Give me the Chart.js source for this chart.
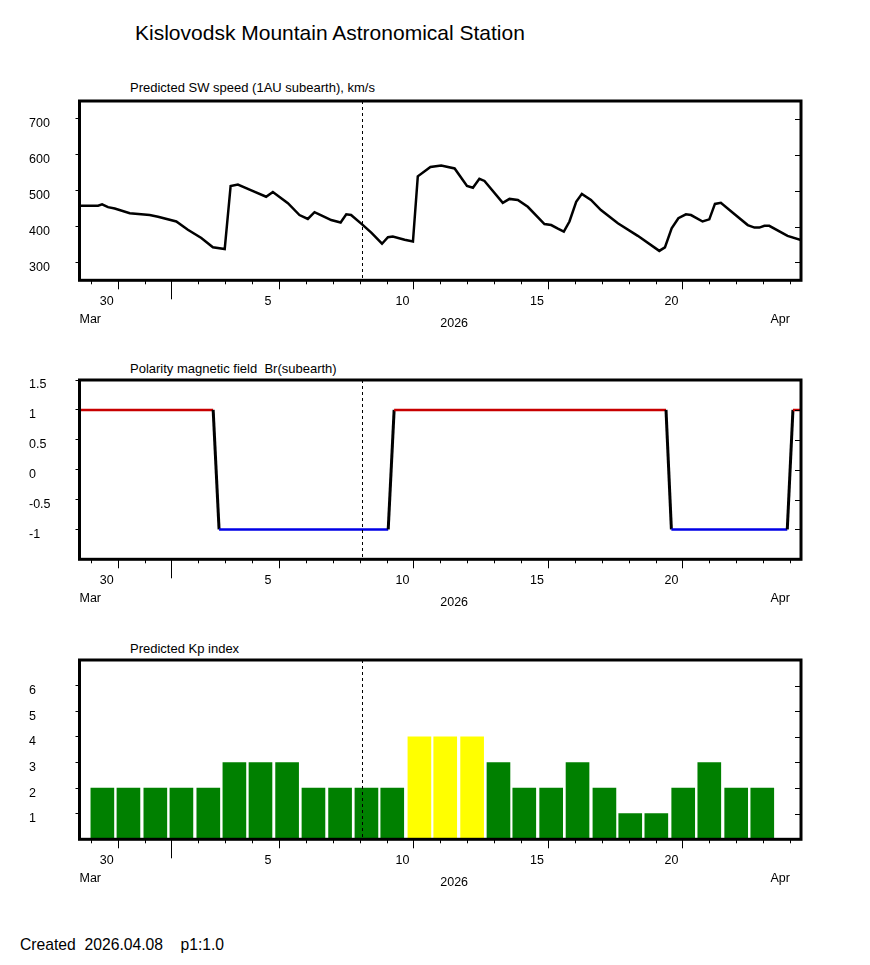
<!DOCTYPE html>
<html lang="en">
<head>
    <meta charset="UTF-8">
    <title>Kislovodsk Mountain Astronomical Station</title>
    <script src="https://cdn.jsdelivr.net/npm/chart.js"></script>
    <style>
        body {
            margin: 0;
            background: #fff;
            font-family: "Liberation Sans", Arial, sans-serif;
        }
        .page {
            position: relative;
            width: 870px;
            height: 965px;
        }
        .txt {
            position: absolute;
            white-space: pre;
            color: #000;
            line-height: 1;
        }
        .main-title { left: 135px; top: 21.7px; font-size: 21px; }
        .panel-title { left: 130px; font-size: 13px; }
        .footer { left: 20px; top: 936.5px; font-size: 15.7px; }
        .panel {
            position: absolute;
            left: 0;
        }
    </style>
</head>
<body>
<div class="page">
    <div class="txt main-title">Kislovodsk Mountain Astronomical Station</div>

    <div class="txt panel-title" style="top:81.3px">Predicted SW speed (1AU subearth), km/s</div>
    <canvas class="panel" id="swChart" width="870" height="250" style="top:80.5px"></canvas>

    <div class="txt panel-title" style="top:361.9px">Polarity magnetic field  Br(subearth)</div>
    <canvas class="panel" id="polChart" width="870" height="250" style="top:360.3px"></canvas>

    <div class="txt panel-title" style="top:642.3px">Predicted Kp index</div>
    <canvas class="panel" id="kpChart" width="870" height="250" style="top:640.3px"></canvas>

    <div class="txt footer">Created  2026.04.08    p1:1.0</div>
</div>

<script>
    // time axis: day numbers, Mar 30 = 30, Apr 1 = 32, Apr 24 = 55
    const xMin = 28.58;
    const xMax = 55.41;
    const dayTicks = [29, 30, 31, 32, 33, 34, 35, 36, 37, 38, 39, 40, 41, 42,
                      43, 44, 45, 46, 47, 48, 49, 50, 51, 52, 53, 54, 55];
    const labelDays = [30, 36, 41, 46, 51];
    const labelText = ['30', '5', '10', '15', '20'];
    const monthStart = 32;
    const nowDay = 39.09;

    // predicted solar wind speed, km/s
    const swDays = [28.58, 29.27, 29.42, 29.64, 29.89, 30.45, 31.19, 31.50, 32.18, 32.61,
                    33.11, 33.54, 33.98, 34.20, 34.47, 34.97, 35.52, 35.77, 36.33, 36.76,
                    37.07, 37.32, 37.63, 37.94, 38.29, 38.50, 38.68, 39.12, 39.43, 39.83,
                    40.05, 40.23, 40.67, 40.98, 41.16, 41.63, 42.03, 42.53, 42.99, 43.21,
                    43.45, 43.64, 44.32, 44.57, 44.88, 45.25, 45.87, 46.12, 46.37, 46.59,
                    46.80, 47.05, 47.26, 47.60, 47.97, 48.60, 49.34, 50.14, 50.35, 50.60,
                    50.85, 51.13, 51.32, 51.75, 52.00, 52.21, 52.43, 52.93, 53.43, 53.68,
                    53.86, 54.05, 54.23, 54.91, 55.41];
    const swSpeed = [458, 458, 462, 454, 450, 437, 432, 427, 414, 391,
                     368, 342, 337, 513, 517, 501, 483, 496, 465, 432,
                     421, 440, 429, 418, 411, 434, 432, 404, 383, 352,
                     370, 372, 363, 358, 540, 566, 570, 562, 513, 508,
                     533, 527, 466, 477, 474, 455, 407, 404, 394, 386,
                     414, 469, 491, 474, 446, 409, 374, 332, 342, 395,
                     423, 434, 432, 414, 420, 463, 466, 435, 404, 397,
                     397, 402, 402, 374, 362];
    const swTicks = [300, 400, 500, 600, 700];

    // polarity of Br
    const polDays = [28.58, 33.55, 33.77, 40.06, 40.28, 50.39, 50.59, 54.90, 55.11, 55.41];
    const polValues = [1, 1, -1, -1, 1, 1, -1, -1, 1, 1];
    const polTicks = [1.5, 1, 0.5, 0, -0.5, -1];

    // predicted Kp, one bar per day (Mar 29 .. Apr 23)
    const kpDays = [29.43, 30.40, 31.40, 32.37, 33.37, 34.34, 35.31, 36.30, 37.28, 38.27,
                    39.25, 40.21, 41.22, 42.18, 43.18, 44.16, 45.12, 46.12, 47.10, 48.10,
                    49.06, 50.03, 51.03, 52.00, 53.00, 53.97];
    const kpValues = [2, 2, 2, 2, 2, 3, 3, 3, 2, 2, 2, 2, 4, 4, 4, 3, 2, 2, 3, 2, 1, 1, 2, 3, 2, 2];
    const kpTicks = [1, 2, 3, 4, 5, 6];

    Chart.defaults.font.family = '"Liberation Sans", Arial, sans-serif';
    Chart.defaults.font.size = 12.5;
    Chart.defaults.color = '#000';

    // box, inner ticks, day ticks, "now" line and month/year labels
    const framePlugin = {
        id: 'frame',
        afterDraw(chart) {
            const ctx = chart.ctx;
            const a = chart.chartArea;
            const x = chart.scales.x;
            const y = chart.scales.y;
            ctx.save();
            ctx.strokeStyle = '#000';
            ctx.lineWidth = 1;

            ctx.setLineDash([3, 3]);
            const nx = Math.round(x.getPixelForValue(nowDay)) + 0.5;
            ctx.beginPath();
            ctx.moveTo(nx, a.top);
            ctx.lineTo(nx, a.bottom);
            ctx.stroke();
            ctx.setLineDash([]);

            ctx.beginPath();
            y.ticks.forEach(function(t) {
                const py = Math.round(y.getPixelForValue(t.value)) + 0.5;
                ctx.moveTo(a.right, py);
                ctx.lineTo(a.right - 6, py);
            });
            dayTicks.forEach(function(d) {
                let len = 4;
                if (d === monthStart) len = 19;
                else if (labelDays.indexOf(d) >= 0) len = 9;
                const px = Math.round(x.getPixelForValue(d)) + 0.5;
                ctx.moveTo(px, a.bottom);
                ctx.lineTo(px, a.bottom + len);
            });
            ctx.stroke();

            ctx.lineWidth = 3;
            ctx.strokeRect(a.left, a.top, a.right - a.left, a.bottom - a.top);

            ctx.fillStyle = '#000';
            ctx.font = '12.5px "Liberation Sans", Arial, sans-serif';
            ctx.textBaseline = 'middle';
            ctx.textAlign = 'left';
            ctx.fillText('Mar', a.left, a.bottom + 39);
            ctx.fillText('2026', (a.left + a.right) / 2, a.bottom + 43);
            ctx.textAlign = 'right';
            ctx.fillText('Apr', x.getPixelForValue(dayTicks[dayTicks.length - 1]), a.bottom + 39);
            ctx.restore();
        }
    };

    function panelOptions(yMin, yMax, yTicks) {
        return {
            responsive: false,
            animation: false,
            layout: { padding: { top: 20, left: 29, right: 69, bottom: 0 } },
            plugins: {
                legend: { display: false },
                tooltip: { enabled: false }
            },
            scales: {
                x: {
                    type: 'linear',
                    min: xMin,
                    max: xMax,
                    offset: false,
                    afterBuildTicks: function(s) { s.ticks = dayTicks.map(v => ({ value: v })); },
                    afterFit: function(s) { s.height = 50.7; },
                    grid: { display: false, drawTicks: false, offset: false },
                    border: { display: false },
                    ticks: {
                        padding: 14,
                        labelOffset: -11,
                        autoSkip: false,
                        maxRotation: 0,
                        callback: function(v) {
                            const k = labelDays.indexOf(v);
                            return k < 0 ? '' : labelText[k];
                        }
                    }
                },
                y: {
                    min: yMin,
                    max: yMax,
                    afterBuildTicks: function(s) { s.ticks = yTicks.map(v => ({ value: v })); },
                    afterFit: function(s) { s.width = 50.5; },
                    grid: { drawOnChartArea: false, tickLength: 4, color: '#000', tickColor: '#000' },
                    border: { display: false },
                    ticks: {
                        crossAlign: 'far',
                        labelOffset: 5,
                        autoSkip: false,
                        callback: function(v) { return String(v); }
                    }
                }
            }
        };
    }

    new Chart(document.getElementById('swChart'), {
        type: 'line',
        data: {
            datasets: [{
                data: swDays.map((d, i) => ({ x: d, y: swSpeed[i] })),
                borderColor: '#000',
                borderWidth: 2.5,
                pointRadius: 0,
                tension: 0
            }]
        },
        options: panelOptions(250, 750, swTicks),
        plugins: [framePlugin]
    });

    new Chart(document.getElementById('polChart'), {
        type: 'line',
        data: {
            datasets: [{
                data: polDays.map((d, i) => ({ x: d, y: polValues[i] })),
                borderColor: '#c80000',
                borderWidth: 2.5,
                pointRadius: 0,
                tension: 0,
                segment: {
                    borderColor: c => c.p0.parsed.y !== c.p1.parsed.y ? '#000'
                        : (c.p0.parsed.y > 0 ? '#c80000' : '#0000e6'),
                    borderWidth: c => c.p0.parsed.y !== c.p1.parsed.y ? 3 : 2.5
                }
            }]
        },
        options: panelOptions(-1.5, 1.5, polTicks),
        plugins: [framePlugin]
    });

    new Chart(document.getElementById('kpChart'), {
        type: 'bar',
        data: {
            datasets: [{
                data: kpDays.map((d, i) => ({ x: d, y: kpValues[i] })),
                backgroundColor: kpValues.map(v => v >= 4 ? '#ffff00' : '#008000'),
                borderWidth: 0,
                barThickness: 23
            }]
        },
        options: panelOptions(0, 7, kpTicks),
        plugins: [framePlugin]
    });
</script>
</body>
</html>
